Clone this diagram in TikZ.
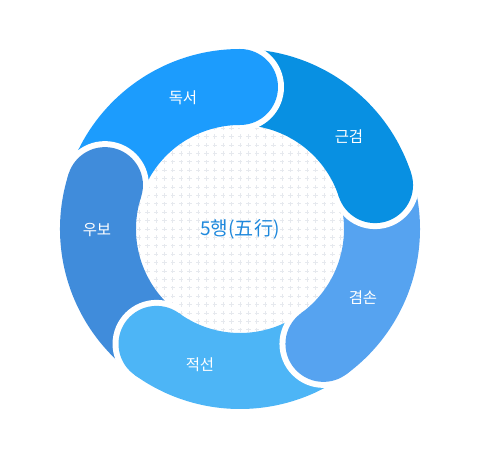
\documentclass[tikz,border=0pt]{standalone}
\usepackage{fontspec}
\newfontfamily\krfont{Noto Sans CJK KR}
\usepackage{tikz}
\usetikzlibrary{positioning,calc}
\usepackage{xcolor}
\definecolor{ohDokseo}{HTML}{1C9CFD}
\definecolor{ohGeungeom}{HTML}{0890E2}
\definecolor{ohGyeomson}{HTML}{56A3F0}
\definecolor{ohJeokseon}{HTML}{4DB5F6}
\definecolor{ohUbo}{HTML}{408CDB}
\definecolor{ohTitle}{HTML}{1E88DC}
\definecolor{ohDots}{HTML}{E6E9EE}
\tikzset{
  ohlabel/.style={text=white, font=\krfont\fontsize{11}{13}\selectfont, inner sep=1pt},
  ohcenter/.style={text=ohTitle, font=\krfont\fontsize{13.6}{16}\selectfont, inner sep=1pt},
  ohplus/.style={draw=ohDots, line width=0.6pt},
  ohgap/.style={fill=white},
}
\def\Ro{4.5}
\def\Ri{2.6}
\def\Rm{3.55}
\def\Rc{0.95}
\def\Rb{1.1}

\begin{document}
\begin{tikzpicture}
  \useasboundingbox (-6,-5.65) rectangle (6,5.725);

  % dotted background of the middle
  \begin{scope}
    \clip (0,0) circle[radius=2.8];
    \path[ohplus] foreach \i in {-14,...,14} {foreach \j in {-14,...,14}
      {(\i*0.21-0.055,\j*0.21) -- ++(0.11,0) (\i*0.21,\j*0.21-0.055) -- ++(0,0.11)}};
  \end{scope}

  % ring pieces, cap at \ang
  \foreach \ang/\col in {90/ohDokseo, 18/ohGeungeom, -54/ohGyeomson, -126/ohJeokseon, 162/ohUbo} {
    \fill[\col] (\ang+72:\Ro) arc[start angle=\ang+72, end angle=\ang, radius=\Ro]
      -- (\ang:\Ri) arc[start angle=\ang, end angle=\ang+72, radius=\Ri] -- cycle;
  }
  \foreach \ang/\col in {90/ohDokseo, 18/ohGeungeom, -54/ohGyeomson, -126/ohJeokseon, 162/ohUbo} {
    \begin{scope}
      \clip (0,0) -- (\ang:10) -- (\ang-90:10) -- cycle;
      \fill[ohgap] (\ang:\Rm) circle[radius=\Rb];
    \end{scope}
    \fill[\col] (\ang:\Rm) circle[radius=\Rc];
  }

  \node[ohcenter] (ohaeng) at (0,0) {5행(五行)};
  \node[ohlabel] (dokseo) at (-1.425,3.275) {독서};
  \node[ohlabel] (geungeom) at (2.725,2.3) {근검};
  \node[ohlabel] (gyeomson) at (3.075,-1.725) {겸손};
  \node[ohlabel] (jeokseon) at (-1.0,-3.4) {적선};
  \node[ohlabel] (ubo) at (-3.575,-0.025) {우보};
\end{tikzpicture}
\end{document}
